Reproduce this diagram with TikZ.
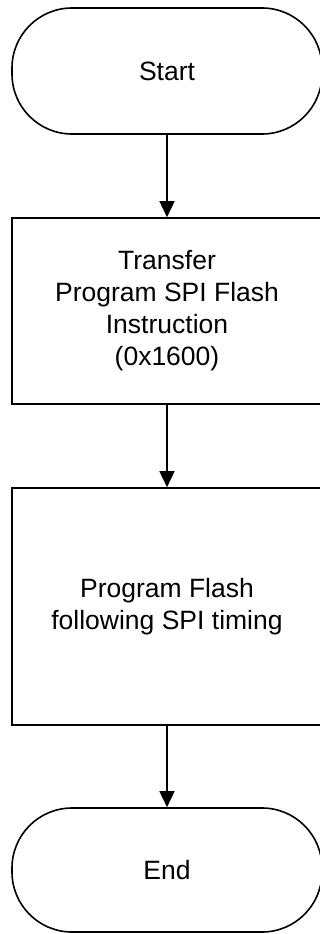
\documentclass[tikz,border=0pt]{standalone}
\usepackage{fontspec}
\setmainfont{Liberation Sans}
\usetikzlibrary{arrows.meta}

\begin{document}
\begin{tikzpicture}[x=1pt, y=-1pt,
    % Styles
    terminal/.style={draw=black, line width=1.6pt, rounded corners=60pt, minimum width=310pt, align=center, font=\fontsize{26.5}{32}\selectfont},
    process/.style={draw=black, line width=1.6pt, minimum width=310pt, align=center, font=\fontsize{26.5}{32}\selectfont},
    flow-arrow/.style={-{Triangle[width=15pt,length=16pt]}, line width=1.6pt, black},
]
\useasboundingbox (0, 0) rectangle (320, 934);

% Start / end terminals
\node[terminal, minimum height=126pt] (start) at (167, 71) {Start};
\node[terminal, minimum height=124pt] (end) at (167, 870) {End};

% Process steps
\node[process, minimum height=186pt] (transfer) at (167, 311) {Transfer\\Program SPI Flash\\Instruction\\(0x1600)};
\node[process, minimum height=237pt] (program) at (167, 606.5) {Program Flash\\following SPI timing};

% Flow
\draw[flow-arrow] (start) -- (transfer);
\draw[flow-arrow] (transfer) -- (program);
\draw[flow-arrow] (program) -- (end);

\end{tikzpicture}
\end{document}
